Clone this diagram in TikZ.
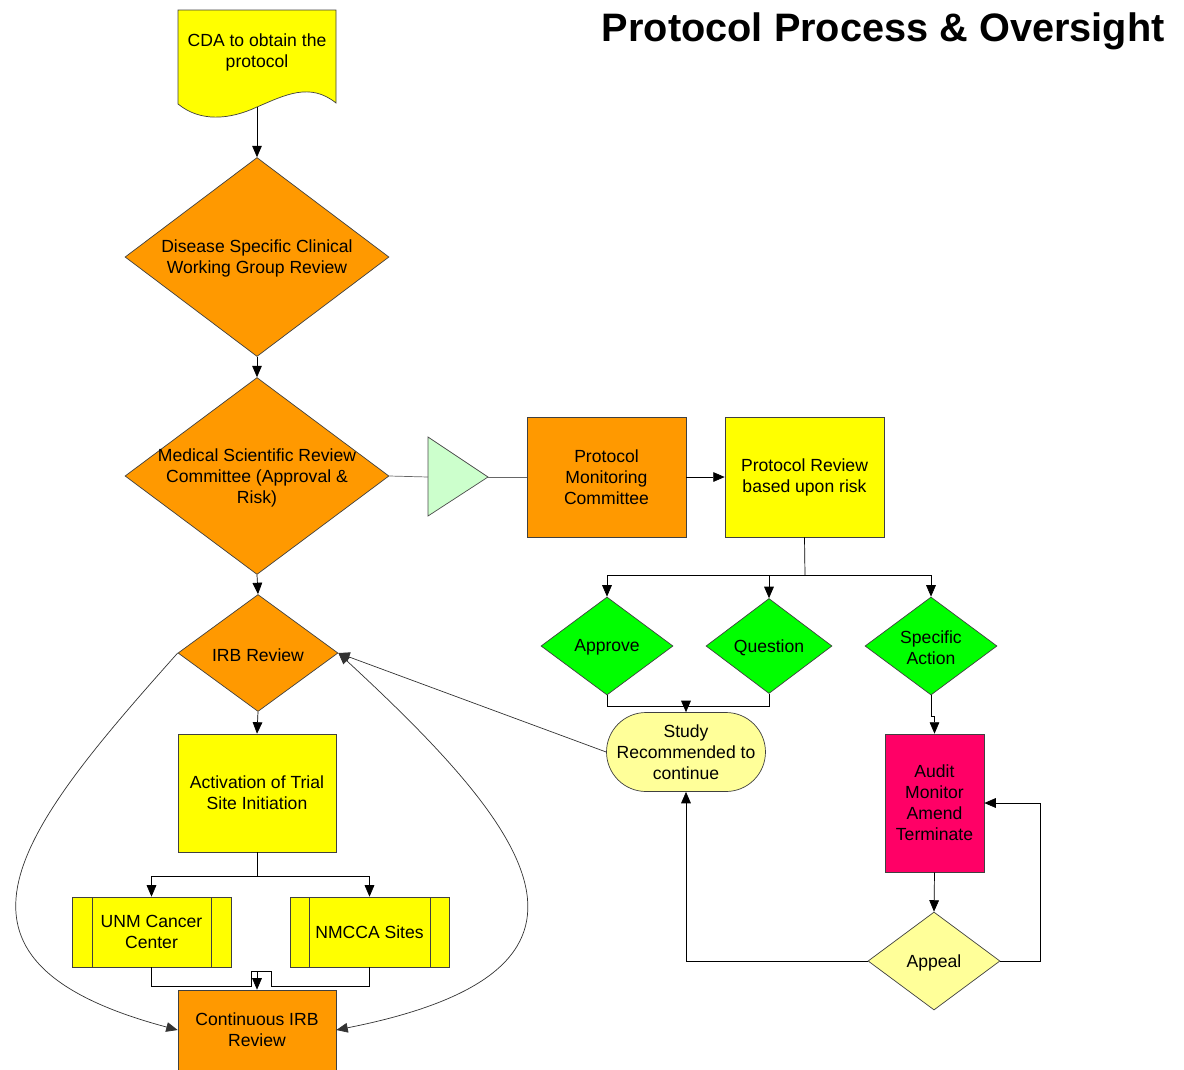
\documentclass[tikz,border=0pt]{standalone}
\usepackage{fontspec}
\setmainfont{Liberation Sans}
\usetikzlibrary{arrows.meta, shapes.geometric}

\definecolor{procorange}{HTML}{FF9900}
\definecolor{procyellow}{HTML}{FFFF00}
\definecolor{procgreen}{HTML}{00FF00}
\definecolor{paleyellow}{HTML}{FFFF99}
\definecolor{palegreen}{HTML}{CCFFCC}
\definecolor{auditred}{HTML}{FF0066}

\begin{document}
\begin{tikzpicture}[x=0.02cm, y=-0.02cm,
    font=\fontsize{10}{12}\selectfont,
    box/.style={draw=black!75, align=center, inner sep=2pt},
    decision/.style={diamond, draw=black!75, inner sep=0pt},
    lbl/.style={align=center, yshift=-1pt},
    link/.style={-{Triangle[length=6.5pt,width=5.5pt]}, black},
    plain/.style={black!60}]
  \clip (0,0) rectangle (1184,1069);

  % title
  \node[anchor=east, inner sep=0pt, font=\fontsize{22.6}{26}\selectfont\bfseries] (title) at (1165,31) {Protocol Process \& Oversight};

  % document shape
  \draw[draw=black!75, fill=procyellow] (178,10) -- (336,10) -- (336,103)
    .. controls (310,82) and (285,95) .. (257,107)
    .. controls (229,120) and (200,122) .. (178,104) -- cycle;
  \node[lbl] (cda) at (257,51) {CDA to obtain the\\protocol};
  \coordinate (cdab) at (257,107);

  % left column
  \node[decision, fill=procorange, minimum width=5.28cm, minimum height=3.98cm,
    label={[lbl]center:Disease Specific Clinical\\Working Group Review}] (dsc) at (257,257) {};
  \node[decision, fill=procorange, minimum width=5.28cm, minimum height=3.94cm,
    label={[lbl]center:Medical Scientific Review\\Committee (Approval \&\\Risk)}] (msr) at (257,476) {};
  \node[decision, fill=procorange, minimum width=3.2cm, minimum height=2.34cm,
    label={[lbl]center:IRB Review}] (irb) at (258,653) {};
  \node[box, fill=procyellow, minimum width=3.16cm, minimum height=2.36cm] (act) at (257,793) {Activation of Trial\\Site Initiation};
  \node[box, fill=procyellow, minimum width=3.18cm, minimum height=1.4cm] (unm) at (151.5,932) {UNM Cancer\\Center};
  \node[box, fill=procyellow, minimum width=3.18cm, minimum height=1.4cm] (nmcca) at (369.5,932) {NMCCA Sites};
  \draw[black!75] (92,897) -- (92,967) (211,897) -- (211,967);
  \draw[black!75] (309,897) -- (309,967) (430,897) -- (430,967);
  \node[box, fill=procorange, minimum width=3.16cm, minimum height=1.6cm] (cirb) at (257,1030) {Continuous IRB\\Review};

  % right part
  \draw[draw=black!70, fill=palegreen] (428,437) -- (488,477) -- (428,516) -- cycle;
  \coordinate (triw) at (428,477);
  \coordinate (trie) at (488,477);
  \node[box, fill=procorange, minimum width=3.18cm, minimum height=2.4cm] (pmc) at (606.5,477) {Protocol\\Monitoring\\Committee};
  \node[box, fill=procyellow, minimum width=3.18cm, minimum height=2.4cm] (prb) at (804.5,477) {Protocol Review\\based upon risk};
  \node[decision, fill=procgreen, minimum width=2.64cm, minimum height=1.96cm,
    label={[lbl]center:Approve}] (appr) at (607,646) {};
  \node[decision, fill=procgreen, minimum width=2.52cm, minimum height=1.9cm,
    label={[lbl]center:Question}] (ques) at (769,646) {};
  \node[decision, fill=procgreen, minimum width=2.64cm, minimum height=1.96cm,
    label={[lbl]center:Specific\\Action}] (spec) at (931,646) {};
  \node[box, fill=paleyellow, rounded corners=0.79cm, minimum width=3.18cm, minimum height=1.58cm] (study) at (686,752) {Study\\Recommended to\\continue};
  \node[box, fill=auditred, minimum width=1.98cm, minimum height=2.76cm] (audit) at (934.5,803) {Audit\\Monitor\\Amend\\Terminate};
  \node[decision, fill=paleyellow, minimum width=2.64cm, minimum height=1.96cm,
    label={[lbl]center:Appeal}] (appeal) at (934,961) {};

  % connectors
  \draw[link] (cdab) -- (dsc.north);
  \draw[link] (dsc.south) -- (msr.north);
  \draw[link] (msr.south) -- (irb.north);
  \draw[plain] (msr.east) -- (triw);
  \draw[plain] (trie) -- (pmc.west);
  \draw[link] (pmc.east) -- (prb.west);
  \coordinate (split) at (805,575);
  \draw (prb.south) -- (split);
  \draw[link] (split) -| (appr.north);
  \draw[link] (split) -| (ques.north);
  \draw[link] (split) -| (spec.north);
  \coordinate (join) at (686,706);
  \draw (appr.south) |- (join);
  \draw (ques.south) |- (join);
  \draw[link] (join) -- (study.north);
  \draw[link] (spec.south) -- ++(0,21) -| (audit.north);
  \draw[link] (audit.south) -- (appeal.north);
  \draw[link] (appeal.east) -- ++(40,0) |- (audit.east);
  \draw[link] (appeal.west) -| (study.south);
  \draw[link, black!80] (study.west) -- (irb.east);
  \draw[link] (irb.south) -- (act.north);
  \coordinate (split2) at (257,876);
  \draw (act.south) -- (split2);
  \draw[link] (split2) -| (unm.north);
  \draw[link] (split2) -| (nmcca.north);
  \coordinate (merge) at (257,971);
  \draw (unm.south) |- (251,986) |- (merge);
  \draw (nmcca.south) |- (271,986) |- (merge);
  \draw[link] (merge) -- (cirb.north);
  \draw[link, black!80] (irb.west) .. controls (20,830) and (-85,960) .. (cirb.west);
  \draw[link, black!80, {Triangle[length=6.5pt,width=5.5pt]}-{Triangle[length=6.5pt,width=5.5pt]}] (irb.east) .. controls (530,830) and (640,970) .. (cirb.east);
\end{tikzpicture}
\end{document}
